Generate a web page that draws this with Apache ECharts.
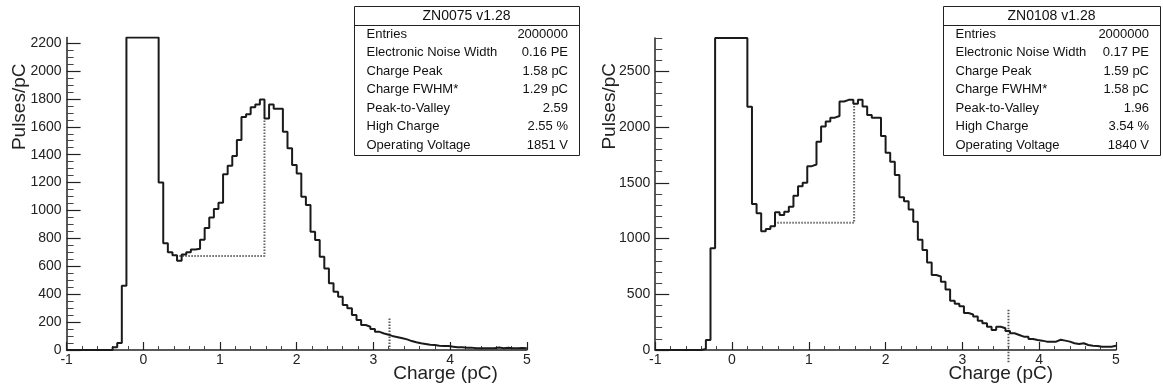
<!DOCTYPE html>
<html>
<head>
<meta charset="utf-8">
<script src="https://cdn.jsdelivr.net/npm/echarts@6/dist/echarts.min.js"></script>
<style>
  html, body { margin: 0; padding: 0; background: #fff; }
  #chart { width: 1163px; height: 389px; }
</style>
</head>
<body>
<div id="chart"></div>
<script>
// histogram binning (100 bins from -1 to 5 pC)
const binLow = -1;
const binWidth = 0.06;

// ZN0075 counts per bin
const countsLeft = [
  0, 0, 0, 0, 0, 0, 0, 0, 0, 0,
  20, 50, 460, 2240, 2240, 2240, 2240, 2240, 2240, 2240,
  1200, 765, 700, 680, 640, 685, 700, 720, 725, 790,
  875, 950, 1010, 1055, 1260, 1320, 1390, 1505, 1670, 1690,
  1740, 1760, 1795, 1660, 1760, 1730, 1730, 1565, 1446, 1326,
  1266, 1099, 1039, 848, 788, 669, 585, 478, 418, 382,
  323, 299, 251, 215, 179, 167, 150, 130, 118, 110,
  98, 92, 84, 76, 64, 55, 48, 43, 37, 35,
  31, 29, 28, 24, 20, 19, 17, 17, 13, 12,
  12, 12, 12, 18, 12, 16, 12, 12, 14, 12
];

// ZN0108 counts per bin
const countsRight = [
  0, 0, 0, 0, 0, 0, 0, 0, 0, 0,
  10, 90, 913, 2800, 2800, 2800, 2800, 2800, 2800, 2800,
  2184, 1310, 1227, 1065, 1085, 1110, 1236, 1212, 1240, 1285,
  1385, 1470, 1500, 1650, 1665, 1870, 2005, 2050, 2085, 2100,
  2230, 2245, 2245, 2210, 2245, 2185, 2110, 2085, 2085, 1920,
  1770, 1690, 1570, 1370, 1335, 1260, 1152, 990, 898, 785,
  673, 659, 612, 542, 443, 415, 392, 332, 318, 300,
  263, 239, 209, 180, 209, 195, 170, 150, 135, 120,
  118, 99, 90, 84, 75, 75, 75, 92, 84, 75,
  60, 54, 60, 45, 38, 36, 30, 30, 30, 39
];

// dotted markers: valley level -> peak, and high-charge threshold
const peakMarkLeft = [[0.47, 674], [1.58, 674], [1.58, 1660]];
const highMarkLeft = [[3.21, 0], [3.21, 230]];
const peakMarkRight = [[0.59, 1143], [1.59, 1143], [1.59, 2210]];
const highMarkRight = [[3.6, -110], [3.6, 374]];

const yTicksLeft = [0, 200, 400, 600, 800, 1000, 1200, 1400, 1600, 1800, 2000, 2200];
const yTicksRight = [0, 500, 1000, 1500, 2000, 2500];

const statsNames = ["Entries", "Electronic Noise Width", "Charge Peak", "Charge FWHM*",
  "Peak-to-Valley", "High Charge", "Operating Voltage"];
const statsLeft = ["2000000", "0.16 PE", "1.58 pC", "1.29 pC", "2.59", "2.55 %", "1851 V"];
const statsRight = ["2000000", "0.17 PE", "1.59 pC", "1.58 pC", "1.96", "3.54 %", "1840 V"];

const FONT = "'Liberation Sans', Arial, Helvetica, sans-serif";

function histPoints(counts) {
  const pts = counts.map((v, i) => [+(binLow + i * binWidth).toFixed(2), v]);
  pts.push([+(binLow + counts.length * binWidth).toFixed(2), counts[counts.length - 1]]);
  return pts;
}

function minorTicks(max, step, major) {
  const out = [];
  for (let v = step; v <= max; v += step) {
    if (v % major !== 0) out.push(v);
  }
  return out;
}

function xAxisCfg(gridIndex, nameGap) {
  return {
    type: "value",
    gridIndex,
    min: -1,
    max: 5,
    interval: 1,
    name: "Charge (pC)",
    nameLocation: "end",
    nameGap,
    nameMoveOverlap: false,
    nameTextStyle: {
      fontFamily: FONT, fontSize: 19, color: "#222",
      align: "right", verticalAlign: "top", padding: [14, 0, 0, 0],
    },
    axisLine: { onZero: false, lineStyle: { color: "#222", width: 1.5 } },
    axisTick: { inside: true, length: 8, lineStyle: { color: "#222", width: 1.2 } },
    minorTick: { show: true, splitNumber: 5, length: 4, lineStyle: { color: "#444", width: 1 } },
    axisLabel: { fontFamily: FONT, fontSize: 14, color: "#222", margin: 3,
      formatter: (v) => String(v) },
    splitLine: { show: false },
  };
}

function yAxisCfg(gridIndex, max, interval, ticks, nameGap, pad) {
  return {
    type: "value",
    gridIndex,
    position: "left",
    min: 0,
    max,
    interval,
    name: "Pulses/pC",
    nameLocation: "end",
    nameRotate: 90,
    nameGap,
    nameMoveOverlap: false,
    nameTextStyle: {
      fontFamily: FONT, fontSize: 19, color: "#222",
      align: "right", verticalAlign: "bottom", padding: [0, 0, pad, 0],
    },
    axisLine: { show: true, onZero: false, lineStyle: { color: "#222", width: 1.5 } },
    axisTick: { show: true, inside: true, length: 14, customValues: ticks,
      lineStyle: { color: "#222", width: 1.2 } },
    axisLabel: { fontFamily: FONT, fontSize: 14, color: "#222", margin: 5, customValues: ticks,
      formatter: (v) => String(v) },
    splitLine: { show: false },
  };
}

function yMinorCfg(gridIndex, max, values) {
  return {
    type: "value",
    gridIndex,
    position: "left",
    min: 0,
    max,
    axisLine: { show: false, onZero: false },
    axisLabel: { show: false },
    axisTick: { show: true, inside: true, length: 7, customValues: values,
      lineStyle: { color: "#444", width: 1 } },
    splitLine: { show: false },
  };
}

function histSeries(xi, yi, counts) {
  return {
    type: "line",
    xAxisIndex: xi,
    yAxisIndex: yi,
    step: "end",
    showSymbol: false,
    data: histPoints(counts),
    lineStyle: { color: "#1a1a1a", width: 2 },
    silent: true,
  };
}

function markSeries(xi, yi, data, color) {
  return {
    type: "line",
    xAxisIndex: xi,
    yAxisIndex: yi,
    showSymbol: false,
    clip: false,
    data,
    lineStyle: { color, width: 2, type: [1.5, 1.5] },
    silent: true,
    z: 1,
  };
}

function statsBox(x, w, title, values) {
  const children = [
    { type: "rect", shape: { x: 0.5, y: 0.5, width: w, height: 149 },
      style: { fill: "#fff", stroke: "#222", lineWidth: 1 } },
    { type: "line", shape: { x1: 0.5, y1: 19.5, x2: w + 0.5, y2: 19.5 },
      style: { stroke: "#222", lineWidth: 1 } },
    { type: "text", x: w / 2, y: 10,
      style: { text: title, fontFamily: FONT, fontSize: 14, fill: "#111",
        align: "center", verticalAlign: "middle" } },
  ];
  statsNames.forEach((name, i) => {
    const cy = 28 + i * 18.5;
    children.push({ type: "text", x: 12.5, y: cy,
      style: { text: name, fontFamily: FONT, fontSize: 13, fill: "#111",
        align: "left", verticalAlign: "middle" } });
    children.push({ type: "text", x: w - 11, y: cy,
      style: { text: values[i], fontFamily: FONT, fontSize: 13, fill: "#111",
        align: "right", verticalAlign: "middle" } });
  });
  return { type: "group", x, y: 6, z: 10, children };
}

const chart = echarts.init(document.getElementById("chart"), null, { renderer: "canvas" });

chart.setOption({
  animation: false,
  backgroundColor: "#fff",
  grid: [
    { left: 66.6, width: 460.2, top: 37.5, height: 312.5 },
    { left: 655.2, width: 460.8, top: 38, height: 312 },
  ],
  xAxis: [xAxisCfg(0, -29), xAxisCfg(1, -63)],
  yAxis: [
    yAxisCfg(0, 2240, 200, yTicksLeft, -26, 37),
    yMinorCfg(0, 2240, minorTicks(2200, 50, 200)),
    yAxisCfg(1, 2800, 500, yTicksRight, -25, 36),
    yMinorCfg(1, 2800, minorTicks(2800, 100, 500)),
  ],
  series: [
    markSeries(0, 0, peakMarkLeft, "#666"),
    markSeries(0, 0, highMarkLeft, "#555"),
    histSeries(0, 0, countsLeft),
    markSeries(1, 2, peakMarkRight, "#666"),
    markSeries(1, 2, highMarkRight, "#555"),
    histSeries(1, 2, countsRight),
  ],
  graphic: [
    statsBox(354, 225, "ZN0075 v1.28", statsLeft),
    statsBox(943, 217, "ZN0108 v1.28", statsRight),
  ],
});
</script>
</body>
</html>
